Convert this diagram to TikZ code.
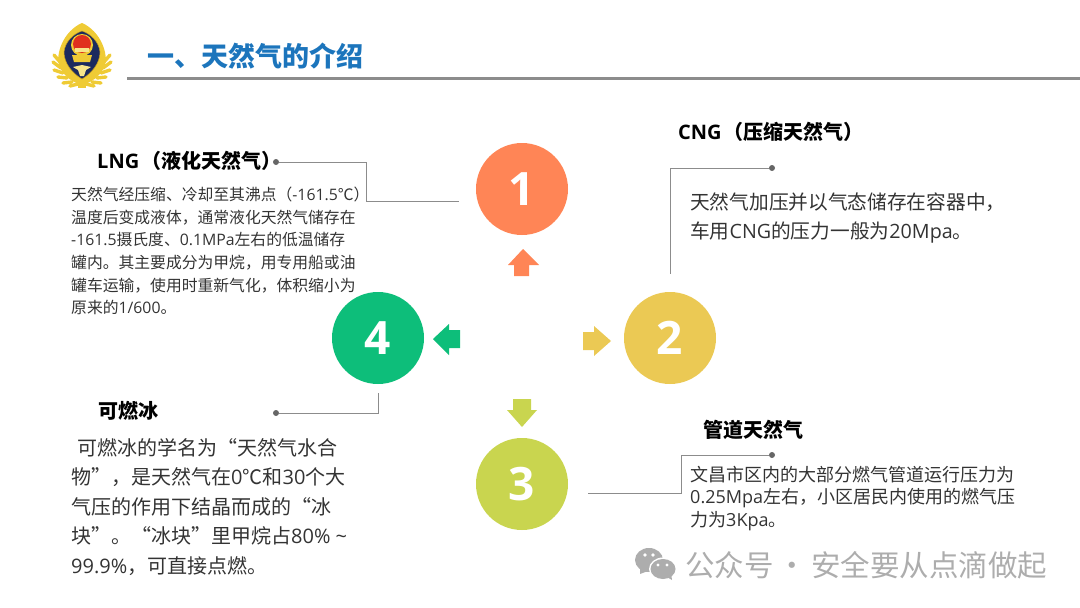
\documentclass[tikz,border=0pt]{standalone}
\usepackage{fontspec}
\setmainfont{Noto Sans CJK SC}
\newfontfamily\lat{Open Sans}
\definecolor{cOne}{HTML}{FF8556}
\definecolor{cTwo}{HTML}{EBC954}
\definecolor{cThree}{HTML}{C9D54F}
\definecolor{cFour}{HTML}{0DBE7A}
\definecolor{titleblue}{HTML}{1C75BC}
\definecolor{linegray}{HTML}{8C8C8C}
\definecolor{dotgray}{HTML}{666666}
\definecolor{bodyc}{HTML}{333333}
\definecolor{gold}{HTML}{EFCB35}
\definecolor{golddark}{HTML}{C9A020}
\definecolor{goldpale}{HTML}{F7E58A}
\definecolor{shieldblue}{HTML}{1B2A5E}
\definecolor{badgered}{HTML}{E0301E}
\definecolor{wm}{HTML}{ADADAD}
\tikzset{
  x=1pt,y=-1pt,
  numcircle/.style={circle,minimum size=92pt,inner sep=0pt,text=white,font=\fontsize{46}{46}\selectfont\lat\bfseries},
  headt/.style={inner sep=0pt,anchor=west,text=black,font=\fontsize{20}{24}\selectfont\bfseries},
  bodyt/.style={inner sep=0pt,anchor=west,align=left,text=bodyc},
  dotn/.style={circle,fill=dotgray,minimum size=6pt,inner sep=0pt},
  leader/.style={draw=linegray,line width=0.9pt},
  leaf/.style={draw=gold,line width=3.4pt,line cap=round},
}
\begin{document}
\begin{tikzpicture}
\useasboundingbox (0,0) rectangle (1080,608);
% title
\node[inner sep=0pt,anchor=west,text=titleblue,font=\fontsize{27}{30}\selectfont\bfseries] (title) at (147,56) {一、天然气的介绍};
\coordinate (ruleL) at (127,78.5);
\coordinate (ruleR) at (1080,78.5);
\draw[line width=2.4pt,draw=linegray] (ruleL) -- (ruleR);
% emblem
\foreach \xa/\ya/\xb/\yb in {60/62/54/55,61/68/53/62,63/73/54/70,67/78/58/77,72/82/63/83,78/84/70/86}{
  \draw[leaf] (\xa,\ya) -- (\xb,\yb);
  \draw[leaf] ({164-\xa},\ya) -- ({164-\xb},\yb);
}
\fill[gold] (82,23) .. controls (92,27) and (105,40) .. (106,60) .. controls (105,72) and (94,82) .. (82,85) .. controls (70,82) and (59,72) .. (58,60) .. controls (59,40) and (72,27) .. (82,23) -- cycle;
\fill[gold] (78,84) rectangle (86,88);
\fill[shieldblue,draw=golddark,line width=0.5pt] (82,31) .. controls (91,34) and (99,42) .. (100,52) .. controls (100,63) and (92,73) .. (82,79) .. controls (72,73) and (64,63) .. (64,52) .. controls (65,42) and (73,34) .. (82,31) -- cycle;
\fill[gold] (82,45) circle (11);
\fill[badgered] (82,44) circle (9);
\fill[goldpale] (75,48) rectangle (89,52);
\fill[gold] (72,55) -- (92,55) -- (90,62) -- (74,62) -- cycle;
\fill[goldpale] (82,65) -- (91,67) -- (86,70) -- (84,76) -- (80,76) -- (78,70) -- (73,67) -- cycle;
% circles
\node[numcircle,fill=cOne] (n1) at (522,189) {1};
\node[numcircle,fill=cTwo] (n2) at (670,338) {2};
\node[numcircle,fill=cThree] (n3) at (522,484) {3};
\node[numcircle,fill=cFour] (n4) at (378,338) {4};
% block arrows
\fill[cOne] (523,249) -- (539,265) -- (529,265) -- (529,276) -- (514,276) -- (514,265) -- (508,265) -- cycle;
\fill[cTwo] (611,341) -- (594,356) -- (594,350) -- (583,350) -- (583,332) -- (594,332) -- (594,326) -- cycle;
\fill[cThree] (522,427) -- (537,410) -- (531,410) -- (531,399) -- (513,399) -- (513,410) -- (507,410) -- cycle;
\fill[cFour] (433,339) -- (449,324) -- (449,330) -- (460,330) -- (460,348) -- (449,348) -- (449,355) -- cycle;
% headings
\node[headt] (hL) at (97,161) {{\lat LNG}\hspace{2pt}（液化天然气）};
\node[headt] (hC) at (678,132) {{\lat CNG}\hspace{2pt}（压缩天然气）};
\node[headt] (hP) at (703,430) {管道天然气};
\node[headt] (hI) at (98,411) {可燃冰};
% body
\node[bodyt,font=\fontsize{15.8}{22.7}\selectfont] (bL) at (71,251) {天然气经压缩、冷却至其沸点（{\lat -161.5}℃）\\温度后变成液体，通常液化天然气储存在\\{\lat -161.5}摄氏度、{\lat 0.1MPa}左右的低温储存\\罐内。其主要成分为甲烷，用专用船或油\\罐车运输，使用时重新气化，体积缩小为\\原来的{\lat 1/600}。};
\node[bodyt,font=\fontsize{19.7}{29}\selectfont] (bC) at (690,218.5) {天然气加压并以气态储存在容器中，\\车用{\lat CNG}的压力一般为{\lat 20Mpa}。};
\node[bodyt,font=\fontsize{18}{22.5}\selectfont] (bP) at (690,498.5) {文昌市区内的大部分燃气管道运行压力为\\{\lat 0.25Mpa}左右，小区居民内使用的燃气压\\力为{\lat 3Kpa}。};
\node[bodyt,font=\fontsize{20}{29.5}\selectfont] (bI) at (71,507) {\hspace*{6pt}可燃冰的学名为“天然气水合\\物”，是天然气在{\lat 0}℃和{\lat 30}个大\\气压的作用下结晶而成的“冰\\块”。“冰块”里甲烷占{\lat 80\% \textasciitilde}\\{\lat 99.9\%}，可直接点燃。};
% leaders
\node[dotn] (dL) at (276,162) {};
\node[dotn] (dC) at (772,168) {};
\node[dotn] (dP) at (772,455) {};
\node[dotn] (dI) at (276,413) {};
\coordinate (eL) at (459,201);
\coordinate (eC) at (670,274);
\coordinate (eP) at (588,493);
\coordinate (eI) at (378,393);
\coordinate (kL1) at (366,162);
\coordinate (kL2) at (366,201);
\coordinate (kC) at (670,168);
\coordinate (kP1) at (681,455);
\coordinate (kP2) at (681,493);
\coordinate (kI) at (378,413);
\draw[leader] (dL) -- (kL1) -- (kL2) -- (eL);
\draw[leader] (dC) -- (kC) -- (eC);
\draw[leader] (dP) -- (kP1) -- (kP2) -- (eP);
\draw[leader] (dI) -- (kI) -- (eI);
% watermark
\fill[wm] (649,560) ellipse (14 and 12);
\fill[wm] (640,568) -- (640,574) -- (648,571) -- cycle;
\fill[white] (663,569) ellipse (14 and 11.5);
\fill[wm] (663,569) ellipse (12.5 and 10);
\fill[wm] (667,577) -- (672,580) -- (671,573) -- cycle;
\fill[white] (645,555) circle (1.8) (653,555) circle (1.8) (658,565) circle (1.6) (667,565) circle (1.6);
\node[inner sep=0pt,anchor=west,text=wm,font=\fontsize{29.5}{32}\selectfont] (wmt) at (685,565) {公众号\hspace{4pt}·\hspace{4pt}安全要从点滴做起};
\end{tikzpicture}
\end{document}
